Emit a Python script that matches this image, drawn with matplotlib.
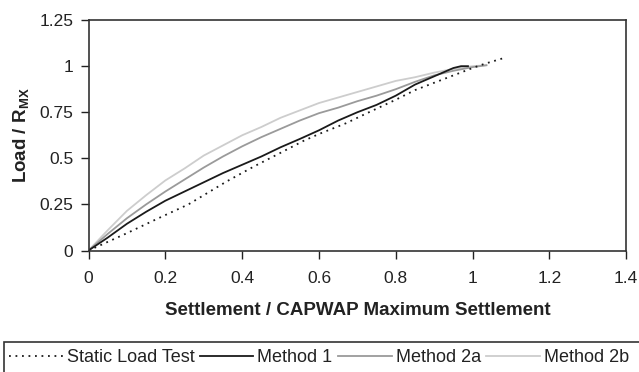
import matplotlib
matplotlib.use("Agg")
import matplotlib.pyplot as plt
from matplotlib.patches import Rectangle

plt.rcParams['font.family'] = ['Liberation Sans', 'DejaVu Sans']
plt.rcParams['mathtext.fontset'] = 'custom'
plt.rcParams['mathtext.rm'] = 'Liberation Sans'
plt.rcParams['mathtext.bf'] = 'Liberation Sans:bold'

# ---- data ----
static_x = [0, 0.026, 0.1, 0.18, 0.26, 0.3, 0.36, 0.43, 0.5, 0.56, 0.6, 0.67, 0.72, 0.8, 0.85, 0.9, 0.95, 1.0, 1.03, 1.078]
static_y = [0, 0.024, 0.094, 0.173, 0.25, 0.3, 0.375, 0.455, 0.53, 0.595, 0.632, 0.69, 0.74, 0.818, 0.87, 0.91, 0.95, 0.99, 1.012, 1.042]

m1_x = [0, 0.05, 0.1, 0.15, 0.2, 0.25, 0.3, 0.35, 0.4, 0.45, 0.5, 0.55, 0.6, 0.65, 0.7, 0.75, 0.8, 0.85, 0.9, 0.95, 0.97, 0.988]
m1_y = [0, 0.07, 0.145, 0.21, 0.27, 0.32, 0.37, 0.42, 0.465, 0.51, 0.56, 0.605, 0.652, 0.705, 0.75, 0.79, 0.84, 0.9, 0.945, 0.99, 1.0, 1.0]

m2a_x = [0, 0.05, 0.1, 0.15, 0.2, 0.25, 0.3, 0.35, 0.4, 0.45, 0.5, 0.55, 0.6, 0.65, 0.7, 0.75, 0.8, 0.85, 0.9, 0.95, 1.0, 1.036]
m2a_y = [0, 0.09, 0.175, 0.25, 0.32, 0.385, 0.45, 0.51, 0.565, 0.615, 0.66, 0.705, 0.745, 0.775, 0.81, 0.84, 0.875, 0.915, 0.95, 0.975, 0.995, 1.005]

m2b_x = [0, 0.05, 0.1, 0.15, 0.2, 0.25, 0.3, 0.35, 0.4, 0.45, 0.5, 0.55, 0.6, 0.65, 0.7, 0.75, 0.8, 0.85, 0.9, 0.95, 1.0, 1.036]
m2b_y = [0, 0.11, 0.215, 0.3, 0.38, 0.445, 0.515, 0.57, 0.625, 0.67, 0.72, 0.76, 0.8, 0.83, 0.86, 0.89, 0.92, 0.94, 0.965, 0.985, 1.0, 1.005]

x_ticks = [0, 0.2, 0.4, 0.6, 0.8, 1.0, 1.2, 1.4]
x_labels = ['0', '0.2', '0.4', '0.6', '0.8', '1', '1.2', '1.4']
y_ticks = [0, 0.25, 0.5, 0.75, 1.0, 1.25]
y_labels = ['0', '0.25', '0.5', '0.75', '1', '1.25']

series_names = ['Static Load Test', 'Method 1', 'Method 2a', 'Method 2b']

# ---- figure ----
fig = plt.figure(figsize=(6.39, 3.72), dpi=100)
ax = fig.add_axes([0.1385, 0.3266, 0.980 - 0.1385, 0.946 - 0.3266])

h0, = ax.plot(m2b_x, m2b_y, color='#cdcdcd', lw=1.3, label=series_names[3])
h1, = ax.plot(m2a_x, m2a_y, color='#9a9a9a', lw=1.3, label=series_names[2])
h2, = ax.plot(m1_x, m1_y, color='#1a1a1a', lw=1.3, label=series_names[1])
h3, = ax.plot(static_x, static_y, color='#1a1a1a', lw=1.3,
              linestyle=(0, (1, 2.6)), label=series_names[0])

ax.set_xlim(0, 1.4)
ax.set_ylim(0, 1.25)
ax.set_xticks(x_ticks)
ax.set_xticklabels(x_labels)
ax.set_yticks(y_ticks)
ax.set_yticklabels(y_labels)
ax.tick_params(axis='both', direction='out', length=6, width=1, colors='#222222',
               labelsize=12.5, labelcolor='#222222')
ax.tick_params(axis='x', pad=9)
ax.tick_params(axis='y', pad=5)
for s in ax.spines.values():
    s.set_color('#333333')
    s.set_linewidth(1.2)

ax.set_xlabel('Settlement / CAPWAP Maximum Settlement', fontsize=13.5,
              fontweight='bold', color='#222222', labelpad=12)
ax.set_ylabel(r'Load / R$_{\mathbf{MX}}$', fontsize=13.5, fontweight='bold',
              color='#222222', labelpad=8)
ax.yaxis.set_label_coords(-(88.5 - 22) / (626.5 - 88.5), 0.5)
ax.xaxis.set_label_coords(0.5, -(311 - 250.5) / (250.5 - 20))
ax.xaxis.label.set_va('center')
ax.yaxis.label.set_va('center')

handles = [h3, h2, h1, h0]
leg = fig.legend(handles, series_names, loc='center left',
                 bbox_to_anchor=(4 / 639, 1 - 358 / 372), ncol=4, frameon=False,
                 fontsize=13, handlelength=2.95, handletextpad=0.22,
                 columnspacing=0.32, borderaxespad=0, borderpad=0.3)
for t in leg.get_texts():
    t.set_color('#222222')

rect = Rectangle((4 / 639, -0.2), 1.2, 0.2 + (1 - 342 / 372), transform=fig.transFigure,
                 fill=False, edgecolor='#333333', linewidth=1.2, clip_on=False)
fig.patches.append(rect)

fig.savefig('out.png', dpi=100)
